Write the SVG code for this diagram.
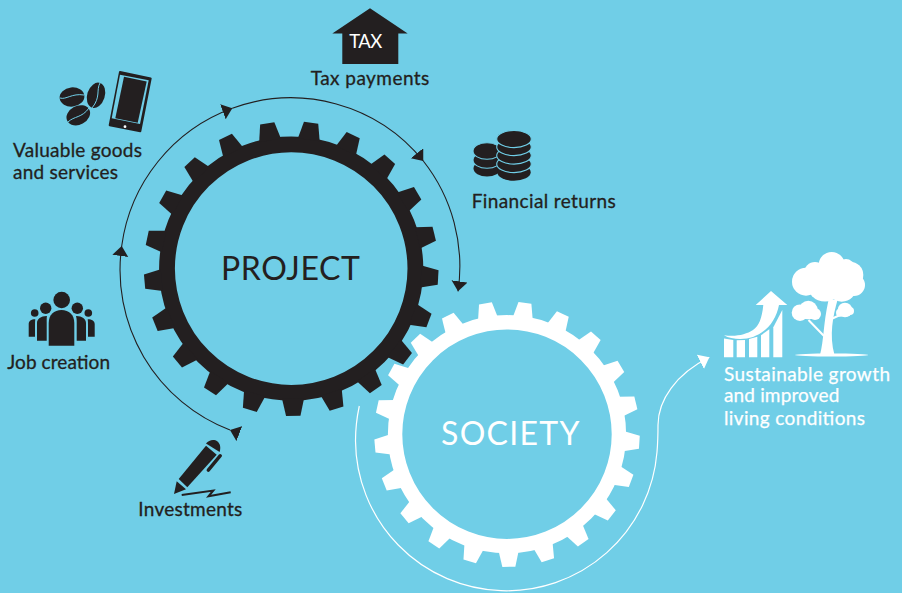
<svg xmlns="http://www.w3.org/2000/svg" width="902" height="593" viewBox="0 0 902 593">
<style>
text{font-family:"Lato","Open Sans","Liberation Sans",sans-serif}
.lbl{font-size:19px;fill:#231f20;stroke:#231f20;stroke-width:.3}
.wlbl{font-size:19px;fill:#fff;stroke:#fff;stroke-width:.25}
.big{font-size:32px}
.ink{fill:#231f20}
.wht{fill:#fff}
.cut{stroke:#70cee7;fill:none;stroke-width:1}
.arc{fill:none;stroke:#231f20;stroke-width:1.1;marker-end:url(#ah)}
.coin{fill:#231f20;stroke:#70cee7;stroke-width:1.1}
</style>
<defs>
<marker id="ah" markerUnits="userSpaceOnUse" markerWidth="11" markerHeight="17" refX="10" refY="8" orient="auto"><path d="M0,0L10,8L0,16Z" fill="#231f20"/></marker>
<marker id="ahw" markerUnits="userSpaceOnUse" markerWidth="11" markerHeight="17" refX="10" refY="8" orient="auto"><path d="M0,0L10,8L0,16Z" fill="#fff"/></marker>
<path id="tb" d="M-11,-130 L-7.2,-147.2 L7.2,-147.2 L11,-130Z" fill="#231f20"/>
<path id="tw" d="M-10,-117 L-6.5,-132.6 L6.5,-132.6 L10,-117Z" fill="#fff"/>
</defs>
<rect width="902" height="593" fill="#70cee7"/>

<g id="project-gear">
<circle cx="291.2" cy="268.6" r="124.2" fill="none" stroke="#231f20" stroke-width="15.8"/>
<g transform="translate(291.2 268.6)">
<use href="#tb" transform="rotate(7.77)"/><use href="#tb" transform="rotate(24.91)"/><use href="#tb" transform="rotate(42.05)"/><use href="#tb" transform="rotate(59.2)"/><use href="#tb" transform="rotate(76.34)"/><use href="#tb" transform="rotate(93.48)"/><use href="#tb" transform="rotate(110.62)"/><use href="#tb" transform="rotate(127.77)"/><use href="#tb" transform="rotate(144.91)"/><use href="#tb" transform="rotate(162.05)"/><use href="#tb" transform="rotate(179.2)"/><use href="#tb" transform="rotate(196.34)"/><use href="#tb" transform="rotate(213.48)"/><use href="#tb" transform="rotate(230.62)"/><use href="#tb" transform="rotate(247.77)"/><use href="#tb" transform="rotate(264.91)"/><use href="#tb" transform="rotate(282.05)"/><use href="#tb" transform="rotate(299.2)"/><use href="#tb" transform="rotate(316.34)"/><use href="#tb" transform="rotate(333.48)"/><use href="#tb" transform="rotate(350.63)"/>
</g>
<text class="big ink" x="221" y="280" textLength="139">PROJECT</text>
</g>

<g id="society-gear">
<circle cx="507" cy="434.2" r="111.9" fill="none" stroke="#fff" stroke-width="14.4"/>
<g transform="translate(507 434.2)">
<use href="#tw" transform="rotate(7.77)"/><use href="#tw" transform="rotate(24.91)"/><use href="#tw" transform="rotate(42.05)"/><use href="#tw" transform="rotate(59.2)"/><use href="#tw" transform="rotate(76.34)"/><use href="#tw" transform="rotate(93.48)"/><use href="#tw" transform="rotate(110.62)"/><use href="#tw" transform="rotate(127.77)"/><use href="#tw" transform="rotate(144.91)"/><use href="#tw" transform="rotate(162.05)"/><use href="#tw" transform="rotate(179.2)"/><use href="#tw" transform="rotate(196.34)"/><use href="#tw" transform="rotate(213.48)"/><use href="#tw" transform="rotate(230.62)"/><use href="#tw" transform="rotate(247.77)"/><use href="#tw" transform="rotate(264.91)"/><use href="#tw" transform="rotate(282.05)"/><use href="#tw" transform="rotate(299.2)"/><use href="#tw" transform="rotate(316.34)"/><use href="#tw" transform="rotate(333.48)"/><use href="#tw" transform="rotate(350.63)"/>
</g>
<text class="big wht" x="441" y="445" textLength="138.5">SOCIETY</text>
</g>

<g id="connectors">
<path class="arc" style="marker-start:url(#ah)" d="M230,430 A171.5,171.5 0 0 1 121.7,246"/>
<path class="arc" d="M121.7,246 A171,171 0 0 1 232.3,108.3"/>
<path class="arc" d="M232.3,108.3 A170,170 0 0 1 423.3,161"/>
<path class="arc" d="M423.3,161 A170,170 0 0 1 458,291.3"/>
<path fill="none" stroke="#fff" stroke-width="1.2" style="marker-end:url(#ahw)" d="M359.3,406 C356.7,418 355.5,430 355.5,441 A151,151 0 0 0 657,452 C657.6,445 658,436 658,425 C658,400 676,374 709.3,357.3"/>
</g>

<g id="tax-payments">
<path class="ink" d="M370,8.3L407.7,33.5H398.3V64H342.3V33.5H332.3Z"/>
<text x="349.3" y="48.3" font-size="18.5" fill="#fff" textLength="33">TAX</text>
<text class="lbl" x="310.7" y="85" textLength="118.6">Tax payments</text>
</g>

<g id="financial-returns">
<ellipse class="ink" cx="487" cy="168.5" rx="13.5" ry="8"/>
<ellipse class="coin" cx="487" cy="160" rx="14" ry="8.3"/>
<ellipse class="coin" cx="487" cy="151" rx="14" ry="8.3"/>
<ellipse class="ink" cx="514" cy="172.3" rx="16.7" ry="8.4"/>
<ellipse class="coin" cx="514" cy="164" rx="17.3" ry="8.6"/>
<ellipse class="coin" cx="514" cy="155.5" rx="17.3" ry="8.6"/>
<ellipse class="coin" cx="514" cy="147" rx="17.3" ry="8.6"/>
<ellipse class="coin" cx="514" cy="139" rx="17.3" ry="8.6"/>
<text class="lbl" x="471.7" y="207.7" textLength="144">Financial returns</text>
</g>

<g id="valuable-goods">
<ellipse class="ink" cx="72" cy="97" rx="12.4" ry="9.6" transform="rotate(-6 72 97)"/>
<path class="cut" d="M60,98 C66,100 72,93 84,95"/>
<ellipse class="ink" cx="96" cy="95.3" rx="13" ry="8.8" transform="rotate(-72 96 95.3)"/>
<path class="cut" d="M100,83 C96,90 101,97 92,108"/>
<ellipse class="ink" cx="78.3" cy="115.3" rx="12.4" ry="9.4" transform="rotate(-28 78.3 115.3)"/>
<path class="cut" d="M68,122 C74,116 82,118 89,108"/>
<path class="ink" stroke="#231f20" stroke-width="2" stroke-linejoin="round" d="M120,72 L150.7,78.4 L140.3,131.2 L109.7,125.2Z"/>
<path fill="#70cee7" d="M120,74.7 L148.7,80.3 L140,124 L111.7,118.3Z"/>
<path class="ink" d="M124,76.8 L146.7,81.6 L137.7,122.7 L115.3,118.3Z"/>
<circle class="wht" cx="125" cy="126.7" r="1.4"/>
<text class="lbl" x="13" y="157.3" textLength="129">Valuable goods</text>
<text class="lbl" x="13" y="179" textLength="105">and services</text>
</g>

<g id="job-creation">
<circle class="ink" cx="61.7" cy="300" r="8.3"/>
<path class="ink" d="M48.7,345.7V323C48.7,315 54,310 61.5,310C69,310 74.3,315 74.3,323V345.7Z"/>
<circle class="ink" cx="45.7" cy="308.3" r="5.7"/>
<circle class="ink" cx="77.3" cy="308.3" r="5.7"/>
<path class="ink" d="M37,340.7V323C37,319 41,316 46.5,316C47,316 47,316.5 46.8,317C46.7,318 46.7,320 46.7,322V340.7Z"/>
<path class="ink" d="M86,340.7V323C86,319 82,316 76.5,316C76,316 76,316.5 76.2,317C76.6,318 76.7,320 76.7,322V340.7Z"/>
<circle class="ink" cx="34.7" cy="313" r="3.8"/>
<circle class="ink" cx="88.3" cy="313" r="3.8"/>
<path class="ink" d="M28.7,336.7V324C28.7,321 31,319.3 35.3,319.3C35,321 35,323 35,325V336.7Z"/>
<path class="ink" d="M94.7,336.7V324C94.7,321 92,319.3 87.7,319.3C88,321 88,323 88,325V336.7Z"/>
<text class="lbl" x="7.3" y="369" textLength="102.7">Job creation</text>
</g>

<g id="investments">
<path class="ink" d="M174,494L176.7,481.3L186,489.3Z"/>
<path class="ink" d="M178.7,479L206,445.7L216.7,454.7L187.3,487.3Z"/>
<path class="ink" d="M206,443.5C209,440 214,439 217.5,441.5C220.5,444 220.8,448 219.6,452Z"/>
<path fill="none" stroke="#231f20" stroke-width="3.4" stroke-linecap="round" stroke-linejoin="round" d="M220.3,455.7L208.3,470.2"/>
<path fill="none" stroke="#231f20" stroke-width="2" d="M181.7,495L213.3,490.5L208.5,496.3L230.7,492.3"/>
<text class="lbl" x="138.3" y="515.7" textLength="104">Investments</text>
</g>

<g id="sustainable-growth">
<path class="wht" d="M771,291L787.3,305H779C776,320 768,331 753,337C744,340 731,339.5 724,335.2C736,337 746,334.5 753,330C759,326 762,318 763.3,305H755.7Z"/>
<path class="wht" d="M724,338.5L733.3,340V357.3H724Z"/>
<path class="wht" d="M736.7,340.3L745,340V357.3H736.7Z"/>
<path class="wht" d="M749,339L757.3,336.7V357.3H749Z"/>
<path class="wht" d="M761,335.3L769.3,329.3V357.3H761Z"/>
<path class="wht" d="M773.3,327.3L782.3,310V357.3H773.3Z"/>
<g class="wht">
<circle cx="831.7" cy="265" r="13"/><circle cx="850" cy="275" r="13.3"/><circle cx="854" cy="285" r="11"/><circle cx="806" cy="281.7" r="14"/><circle cx="825" cy="283.3" r="18.3"/><circle cx="841.7" cy="286.7" r="15"/><circle cx="815" cy="273" r="11"/><circle cx="846" cy="267" r="8"/>
<circle cx="800" cy="312.7" r="8.3"/><circle cx="808.3" cy="310" r="9.3"/><circle cx="815" cy="314" r="6"/>
<circle cx="845" cy="310" r="7.3"/><circle cx="840" cy="312.7" r="4"/><circle cx="850" cy="311" r="4"/>
<ellipse cx="831.7" cy="355" rx="36.7" ry="1.5"/>
<path d="M820,355 C824,340 823,325 828.5,300 L837.5,300 C833,316 829,335 834.5,355Z"/>
</g>
<path fill="none" stroke="#fff" stroke-width="2" d="M824,336L808.5,320M827,321L840,315"/>
<text class="wlbl" x="724" y="380.7" textLength="166">Sustainable growth</text>
<text class="wlbl" x="724" y="402.3" textLength="115.3">and improved</text>
<text class="wlbl" x="724" y="425" textLength="141">living conditions</text>
</g>
</svg>
